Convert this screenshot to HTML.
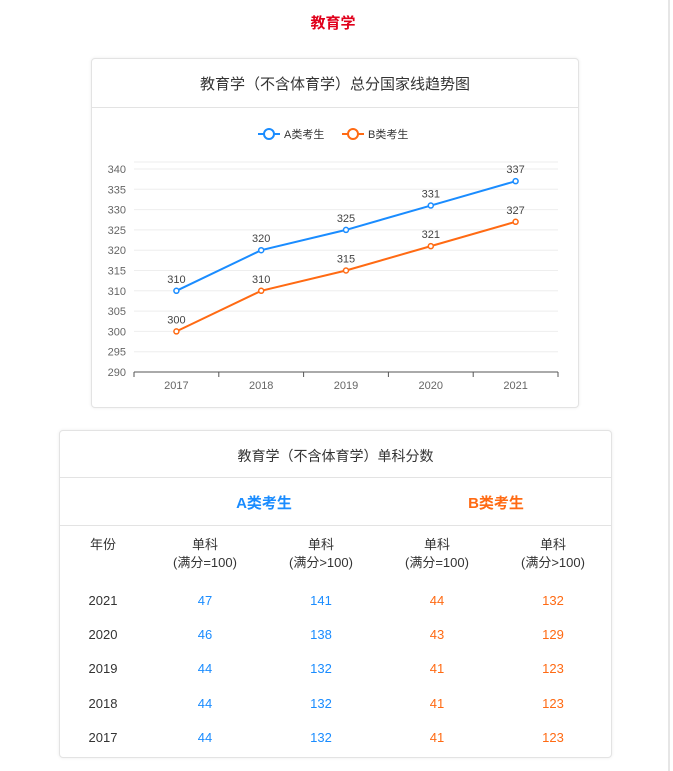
<!DOCTYPE html>
<html><head><meta charset="utf-8"><style>
body{margin:0;width:673px;height:771px;background:#fff;font-family:"Liberation Sans","Noto Sans CJK SC",sans-serif;position:relative;overflow:hidden}
.abs{position:absolute}
.card{position:absolute;border:1px solid #e3e3e3;border-radius:4px;box-shadow:0 0 3px rgba(0,0,0,.08);background:#fff}
.t{position:absolute;text-align:center;white-space:nowrap}
</style></head><body>
<div class="abs" style="left:668px;top:0;width:2px;height:771px;background:#e6e6e6"></div>
<div class="t" style="left:283px;top:12px;width:100px;color:#e0001b;font-size:15px;font-weight:bold">教育学</div>

<div class="card" style="left:91px;top:58px;width:486px;height:348px">
 <div class="t" style="left:0;top:14px;width:486px;font-size:15px;color:#333">教育学（不含体育学）总分国家线趋势图</div>
 <div class="abs" style="left:0;top:48px;width:486px;height:1px;background:#e3e3e3"></div>
</div>
<svg class="abs" style="left:0;top:0" width="673" height="420" id="chart"></svg>

<div class="card" style="left:59px;top:430px;width:551px;height:326px">
 <div class="t" style="left:0;top:15px;width:551px;font-size:14px;color:#333">教育学（不含体育学）单科分数</div>
 <div class="abs" style="left:0;top:46px;width:551px;height:1px;background:#e3e3e3"></div>
 <div class="t" style="left:146px;top:61px;width:116px;font-size:15px;font-weight:bold;color:#1a8cff">A类考生</div>
 <div class="t" style="left:378px;top:61px;width:116px;font-size:15px;font-weight:bold;color:#ff6a13">B类考生</div>
 <div class="abs" style="left:0;top:94px;width:551px;height:1px;background:#e3e3e3"></div>
</div>
<div id="tbl"></div>

<script>
const years=["2017","2018","2019","2020","2021"];
const seriesA=[310,320,325,331,337];
const seriesB=[300,310,315,321,327];
const yTicks=[290,295,300,305,310,315,320,325,330,335,340];
const NS="http://www.w3.org/2000/svg";
const svg=document.getElementById("chart");
const x0=134,x1=558,yMin=290,yMax=340,py0=372,py1=169;
const bw=(x1-x0)/years.length;
function xs(i){return x0+bw*(i+0.5);}
function ys(v){return py0-(v-yMin)/(yMax-yMin)*(py0-py1);}
function el(t,a,txt){const e=document.createElementNS(NS,t);for(const k in a)e.setAttribute(k,a[k]);if(txt!==undefined)e.textContent=txt;svg.appendChild(e);return e;}
let g=el("line",{x1:x0,x2:x1,y1:162,y2:162,stroke:"#eee"});


yTicks.forEach(v=>{
 if(v>yMin){const l=el("line",{x1:x0,x2:x1,y1:ys(v),y2:ys(v),stroke:"#eee"});
 
 }
 const t=el("text",{x:126,y:ys(v)+4,"text-anchor":"end","font-size":11,fill:"#666"},v);
 
 
});
const ax=el("line",{x1:x0,x2:x1,y1:py0,y2:py0,stroke:"#555"});


for(let i=0;i<=years.length;i++){const tk=el("line",{x1:x0+bw*i,x2:x0+bw*i,y1:py0,y2:py0+5,stroke:"#555"});
 
 }
years.forEach((y,i)=>{const t=el("text",{x:xs(i),y:py0+17,"text-anchor":"middle","font-size":11,fill:"#666"},y);
 
 });
function series(data,color,name){
 const p=el("polyline",{points:data.map((v,i)=>xs(i)+","+ys(v)).join(" "),fill:"none",stroke:color,"stroke-width":2});
 
 
 data.forEach((v,i)=>{
  const c=el("circle",{cx:xs(i),cy:ys(v),r:2.5,fill:"#fff",stroke:color,"stroke-width":1.5});
  
  
  const t=el("text",{x:xs(i),y:ys(v)-8,"text-anchor":"middle","font-size":11,fill:"#444"},v);
  
  
 });
}
series(seriesA,"#1a8cff","series-a");
series(seriesB,"#ff6a13","series-b");
// legend
[["A类考生","#1a8cff",258],["B类考生","#ff6a13",342]].forEach(([n,c,lx])=>{
 const l=el("line",{x1:lx,x2:lx+22,y1:134,y2:134,stroke:c,"stroke-width":2});
 
 
 const ci=el("circle",{cx:lx+11,cy:134,r:5,fill:"#fff",stroke:c,"stroke-width":2});
 
 
 const t=el("text",{x:lx+26,y:138,"font-size":11,fill:"#333"},n);
 
 
});
// table
const rowYears=["2021","2020","2019","2018","2017"];
const a100=[47,46,44,44,44];
const aOver=[141,138,132,132,132];
const b100=[44,43,41,41,41];
const bOver=[132,129,123,123,123];
const tbl=document.getElementById("tbl");
const cols=[103,205,321,437,553];
function cell(txt,cx,y,color,name,size){
 const d=document.createElement("div");
 d.className="t";
 d.style.cssText=`left:${cx-60}px;top:${y}px;width:120px;font-size:${size||13}px;color:${color};line-height:18px`;
 d.innerHTML=txt;
 
 
 tbl.appendChild(d);
}
cell("年份",cols[0],536,"#333","col-header-year");
cell("单科<br>(满分=100)",cols[1],536,"#333","col-header-a-100");
cell("单科<br>(满分&gt;100)",cols[2],536,"#333","col-header-a-over");
cell("单科<br>(满分=100)",cols[3],536,"#333","col-header-b-100");
cell("单科<br>(满分&gt;100)",cols[4],536,"#333","col-header-b-over");
const rowY=[592,626,660,695,729];
rowYears.forEach((y,i)=>{
 cell(y,cols[0],rowY[i],"#333","row-year");
 cell(a100[i],cols[1],rowY[i],"#1a8cff","a-100-value");
 cell(aOver[i],cols[2],rowY[i],"#1a8cff","a-over-value");
 cell(b100[i],cols[3],rowY[i],"#ff6a13","b-100-value");
 cell(bOver[i],cols[4],rowY[i],"#ff6a13","b-over-value");
});
</script>
</body></html>
